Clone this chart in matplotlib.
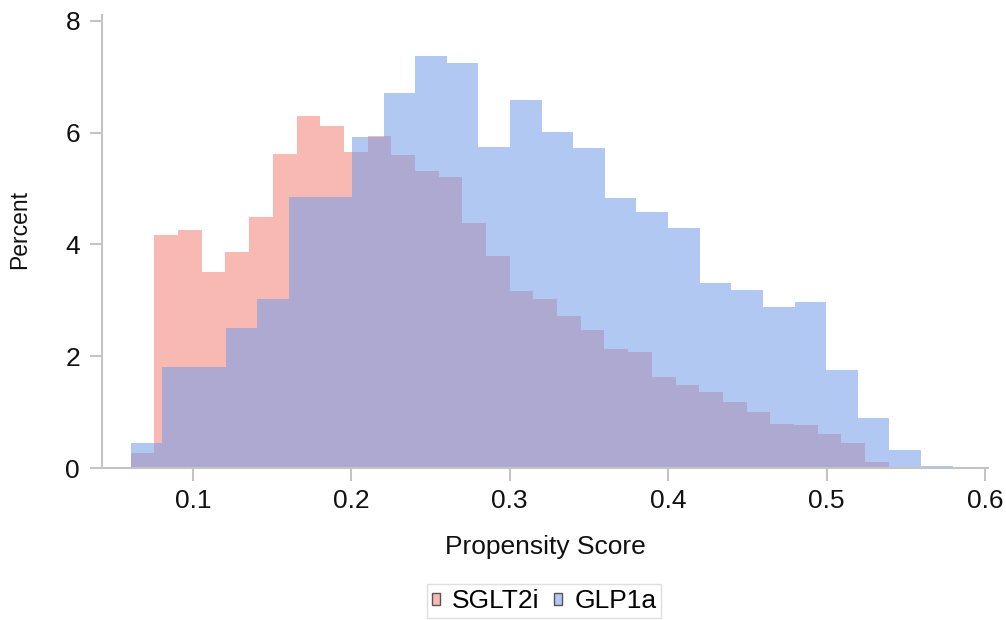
import numpy as np
import matplotlib
matplotlib.use("Agg")
import matplotlib.pyplot as plt
from matplotlib.patches import Patch

# histogram bins (percent per bin)
bin_start = 0.0608
sglt2i_width = 0.01495
glp1a_width = 0.01995

sglt2i_pct = [0.27, 4.16, 4.25, 3.51, 3.86, 4.49, 5.62, 6.30, 6.12, 5.65,
              5.93, 5.59, 5.32, 5.20, 4.38, 3.79, 3.17, 3.03, 2.72, 2.47,
              2.14, 2.08, 1.63, 1.49, 1.37, 1.19, 1.01, 0.80, 0.77, 0.62,
              0.45, 0.12]
glp1a_pct = [0.45, 1.81, 1.81, 2.50, 3.03, 4.85, 4.85, 5.92, 6.70, 7.37,
             7.25, 5.74, 6.59, 6.01, 5.72, 4.83, 4.58, 4.29, 3.31, 3.19,
             2.88, 2.97, 1.75, 0.89, 0.33, 0.04]

labels = ["SGLT2i", "GLP1a"]
xticks = [0.1, 0.2, 0.3, 0.4, 0.5, 0.6]
yticks = [0, 2, 4, 6, 8]

plt.rcParams['font.family'] = ['Liberation Sans', 'DejaVu Sans']

red = (244/255, 130/255, 119/255)
blue = (114/255, 157/255, 232/255)
a = 0.56
gray = "#c4c4c4"

fig = plt.figure(figsize=(10.06, 6.2), dpi=100)
ax = fig.add_axes([0.1017, 0.2447, 0.8807, 0.7311])

edges_r = bin_start + sglt2i_width * np.arange(len(sglt2i_pct) + 1)
edges_b = bin_start + glp1a_width * np.arange(len(glp1a_pct) + 1)
ax.stairs(sglt2i_pct, edges_r, fill=True, color=red, alpha=a, linewidth=0)
ax.stairs(glp1a_pct, edges_b, fill=True, color=blue, alpha=a, linewidth=0)

ax.set_xlim(0.0429, 0.602)
ax.set_ylim(0, 8.1)
ax.set_xticks(xticks)
ax.set_xticklabels([str(t) for t in xticks])
ax.set_yticks(yticks)

for s in ["top", "right"]:
    ax.spines[s].set_visible(False)
for s in ["left", "bottom"]:
    ax.spines[s].set_color(gray)
    ax.spines[s].set_linewidth(1.5)
ax.tick_params(axis="both", colors=gray, length=9, width=1.5, labelsize=19,
               labelcolor="#111111")
ax.tick_params(axis="y", pad=7)
ax.tick_params(axis="x", pad=6)

ax.set_xlabel("Propensity Score", fontsize=19, color="#111111")
ax.xaxis.set_label_coords(0.5, -0.148)
ax.set_ylabel("Percent", fontsize=16.5, color="#111111")
ax.yaxis.set_label_coords(-0.08, 0.526)

def mix(c):
    return tuple(a * v + (1 - a) for v in c)

handles = [Patch(facecolor=mix(red), edgecolor="#555555", linewidth=1),
           Patch(facecolor=mix(blue), edgecolor="#555555", linewidth=1)]
leg = fig.legend(handles, labels, loc="center", bbox_to_anchor=(0.5408, 0.0306),
                 ncol=2, fontsize=19, handlelength=0.32, handleheight=0.32,
                 handletextpad=0.45, columnspacing=0.55, borderpad=0.18,
                 fancybox=False, frameon=True)
leg.get_frame().set_edgecolor("#d8d8d8")
leg.get_frame().set_linewidth(1)

fig.savefig("out.png", dpi=100)
